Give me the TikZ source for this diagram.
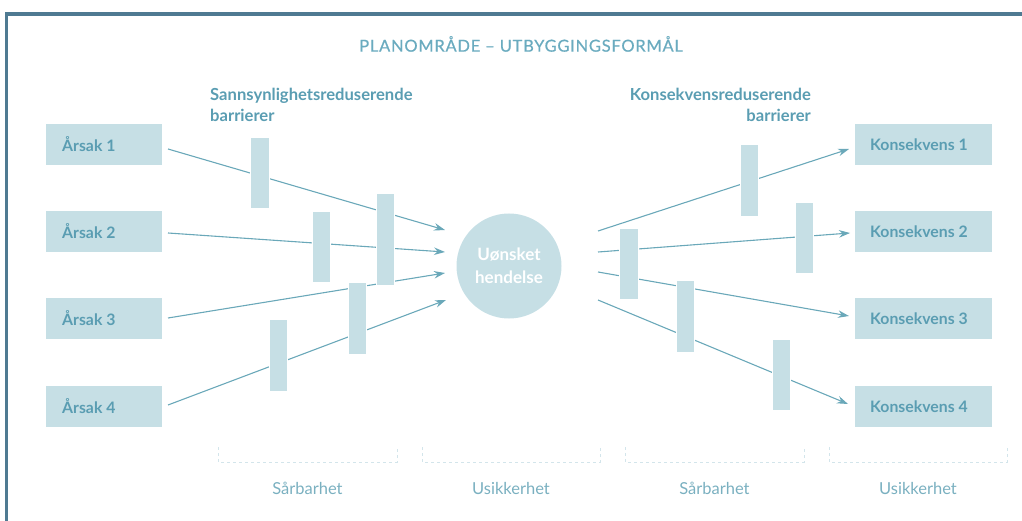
\documentclass[tikz,border=0pt]{standalone}
\usepackage{fontspec}
\setmainfont{Lato}
\usetikzlibrary{arrows.meta}
\definecolor{frame}{HTML}{4F7A92}
\definecolor{boxfill}{HTML}{C6DFE5}
\definecolor{boxtext}{HTML}{5A9DB2}
\definecolor{titletext}{HTML}{6AABBF}
\definecolor{arrowc}{HTML}{6AA8B9}
\definecolor{dashc}{HTML}{D3E5EB}
\definecolor{labtext}{HTML}{7AB0C0}
\tikzset{
  causebox/.style={fill=boxfill, minimum width=116pt, minimum height=41pt, inner sep=0pt},
  boxlabel/.style={font=\fontsize{15.8}{18}\selectfont\bfseries, text=boxtext, anchor=west, inner sep=0pt},
  barrier/.style={fill=boxfill, draw=white, line width=0.8pt},
  flow/.style={draw=arrowc, line width=1.1pt, -{Stealth[length=11pt,width=7.5pt]}},
  bracket/.style={draw=dashc, line width=1pt, dashed},
  bottomlabel/.style={font=\fontsize{16.5}{18}\selectfont, text=labtext, inner sep=0pt},
  header/.style={font=\fontsize{16.6}{20.5}\selectfont\bfseries, text=boxtext, inner sep=0pt}
}
\begin{document}
\begin{tikzpicture}[x=1pt,y=-1pt]
\useasboundingbox (0,0) rectangle (1022,521);
% frame
\draw[frame, line width=3.5pt] (6.5,521) -- (6.5,14) -- (1022,14);
% title
\node[font=\fontsize{16.5}{18}\selectfont\addfontfeature{LetterSpace=4.5,FakeBold=0.6}, text=titletext, inner sep=0pt] (title) at (521,44) {PLANOMRÅDE – UTBYGGINGSFORMÅL};
% headers
\node[header, anchor=north west, align=left] (hl) at (210,88) {Sannsynlighetsreduserende\\barrierer};
\node[header, anchor=north east, align=right] (hr) at (811,88) {Konsekvensreduserende\\barrierer};
% cause boxes
\foreach \i/\y in {1/144.5, 2/231.5, 3/318.5, 4/406.5} {
  \node[causebox] (a\i) at (104,\y) {};
  \node[boxlabel] (at\i) at (62,\y) {Årsak \i};
  \node[causebox, minimum width=137pt] (k\i) at (923.5,\y) {};
  \node[boxlabel] (kt\i) at (870,\y) {Konsekvens \i};
}
% central event
\node[circle, fill=boxfill, minimum size=105pt, inner sep=0pt, align=center,
      font=\fontsize{17}{23}\selectfont\bfseries, text=white] (ev) at (509,266) {Uønsket\\hendelse};
% arrow end points
\coordinate (s1) at (168,149);
\coordinate (s2) at (168,233);
\coordinate (s3) at (168,318);
\coordinate (s4) at (168,405);
\coordinate (e1) at (445,230);
\coordinate (e2) at (445,252);
\coordinate (e3) at (445,273);
\coordinate (e4) at (446,300);
\coordinate (r1) at (598,231);
\coordinate (r2) at (598,252);
\coordinate (r3) at (598,272);
\coordinate (r4) at (598,300);
\coordinate (f1) at (849,149);
\coordinate (f2) at (850,233);
\coordinate (f3) at (849,316);
\coordinate (f4) at (848,404);
\foreach \i in {1,...,4} {
  \draw[flow] (s\i) -- (e\i);
  \draw[flow] (r\i) -- (f\i);
}
% barriers
\path[barrier] (250,137) rectangle (269,208);
\path[barrier] (312,211) rectangle (330,282);
\path[barrier] (376,193) rectangle (394,285);
\path[barrier] (348,282) rectangle (366,354);
\path[barrier] (269,319) rectangle (287,391);
\path[barrier] (740,144) rectangle (758,216);
\path[barrier] (795,202) rectangle (813,273);
\path[barrier] (619,228) rectangle (638,299);
\path[barrier] (676,280) rectangle (694,352);
\path[barrier] (772,339) rectangle (790,410);
% brackets
\draw[bracket] (218,447) -- (218,462) -- (397,462) -- (397,447);
\draw[bracket] (422,447) -- (422,462) -- (600,462) -- (600,447);
\draw[bracket] (625,447) -- (625,462) -- (804,462) -- (804,447);
\draw[bracket] (829,447) -- (829,462) -- (1007,462) -- (1007,447);
\node[bottomlabel] (b1) at (307.5,488) {Sårbarhet};
\node[bottomlabel] (b2) at (511,488) {Usikkerhet};
\node[bottomlabel] (b3) at (714.5,488) {Sårbarhet};
\node[bottomlabel] (b4) at (918,488) {Usikkerhet};
\end{tikzpicture}
\end{document}
